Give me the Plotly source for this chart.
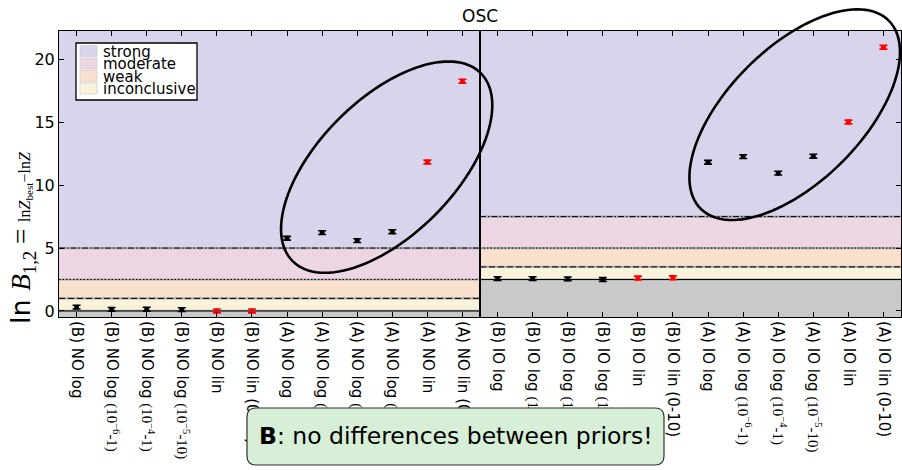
import numpy as np
import plotly.graph_objects as go

# ---------------- data ----------------
left_labels = [
    "(B) NO log",
    "(B) NO log <span style='font-family:Liberation Serif'>(10<sup>−6</sup>-1)</span>",
    "(B) NO log <span style='font-family:Liberation Serif'>(10<sup>−4</sup>-1)</span>",
    "(B) NO log <span style='font-family:Liberation Serif'>(10<sup>−5</sup>-10)</span>",
    "(B) NO lin",
    "(B) NO lin (0-10)",
    "(A) NO log",
    "(A) NO log <span style='font-family:Liberation Serif'>(10<sup>−6</sup>-1)</span>",
    "(A) NO log <span style='font-family:Liberation Serif'>(10<sup>−4</sup>-1)</span>",
    "(A) NO log <span style='font-family:Liberation Serif'>(10<sup>−5</sup>-10)</span>",
    "(A) NO lin",
    "(A) NO lin (0-10)",
]
right_labels = [
    "(B) IO log",
    "(B) IO log <span style='font-family:Liberation Serif'>(10<sup>−6</sup>-1)</span>",
    "(B) IO log <span style='font-family:Liberation Serif'>(10<sup>−4</sup>-1)</span>",
    "(B) IO log <span style='font-family:Liberation Serif'>(10<sup>−5</sup>-10)</span>",
    "(B) IO lin",
    "(B) IO lin (0-10)",
    "(A) IO log",
    "(A) IO log <span style='font-family:Liberation Serif'>(10<sup>−6</sup>-1)</span>",
    "(A) IO log <span style='font-family:Liberation Serif'>(10<sup>−4</sup>-1)</span>",
    "(A) IO log <span style='font-family:Liberation Serif'>(10<sup>−5</sup>-10)</span>",
    "(A) IO lin",
    "(A) IO lin (0-10)",
]
left_values = [0.30, 0.13, 0.14, 0.11, 0.00, 0.00, 5.78, 6.23, 5.59, 6.30, 11.84, 18.26]
left_errors = [0.15, 0.15, 0.15, 0.15, 0.15, 0.15, 0.15, 0.15, 0.15, 0.15, 0.15, 0.15]
left_colors = ["black", "black", "black", "black", "red", "red",
               "black", "black", "black", "black", "red", "red"]
right_values = [2.57, 2.57, 2.55, 2.50, 2.62, 2.64, 11.82, 12.27, 10.95, 12.30, 15.02, 20.96]
right_errors = [0.15, 0.15, 0.15, 0.15, 0.15, 0.15, 0.15, 0.15, 0.15, 0.15, 0.15, 0.15]
right_colors = ["black", "black", "black", "black", "red", "red",
                "black", "black", "black", "black", "red", "red"]

band_names = ["inconclusive", "weak", "moderate", "strong"]
band_colors = ["#f8f3da", "#f9e1cd", "#ecd6e4", "#d8d4ec"]
band_dashes = ["solid", "6px,3px", "1.5px,2px", "6px,2px,1.5px,2px"]
left_thresholds = [0.0, 1.0, 2.5, 5.0]
right_thresholds = [2.5, 3.5, 5.0, 7.5]
below_color = "#c9c9c9"
y_ticks = [0, 5, 10, 15, 20]
y_range = [-0.48, 22.25]

# ellipse highlights: centre (category index, value), semi-axes in px, angle
ellipses = [
    {"panel": 0, "cx": 8.84, "cy": 11.43, "a": 133, "b": 68, "angle": 45},
    {"panel": 1, "cx": 8.47, "cy": 15.60, "a": 133, "b": 67, "angle": 45},
]

# ---------------- geometry ----------------
FW, FH = 902, 470
L, R, T, B = 59, 1, 31, 153
PW = FW - L - R
PH = FH - T - B
n = len(left_labels)

def px_to_paper_x(px):
    return (px - L) / PW

def px_to_paper_y(py):
    return (FH - B - py) / PH

def data_to_px(panel, x, y):
    px = L + panel * PW / 2 + (x + 0.5) / n * (PW / 2)
    py = T + (y_range[1] - y) / (y_range[1] - y_range[0]) * PH
    return px, py

fig = go.Figure()

for panel, (vals, errs, cols) in enumerate([(left_values, left_errors, left_colors),
                                             (right_values, right_errors, right_colors)]):
    xa = "x" if panel == 0 else "x2"
    ya = "y" if panel == 0 else "y2"
    for c in ["black", "red"]:
        idx = [i for i in range(n) if cols[i] == c]
        fig.add_trace(go.Scatter(
            x=idx, y=[vals[i] for i in idx],
            error_y=dict(type="data", array=[errs[i] for i in idx], color=c,
                         thickness=1.6, width=4),
            mode="markers", marker=dict(color=c, size=5),
            xaxis=xa, yaxis=ya, showlegend=False, hoverinfo="skip"))

shapes = []
for panel, thr in enumerate([left_thresholds, right_thresholds]):
    xr = "x domain" if panel == 0 else "x2 domain"
    yr = "y" if panel == 0 else "y2"
    shapes.append(dict(type="rect", xref=xr, yref=yr, x0=0, x1=1,
                       y0=y_range[0], y1=thr[0], fillcolor=below_color,
                       line_width=0, layer="below"))
    for i in range(len(thr)):
        top = thr[i + 1] if i + 1 < len(thr) else y_range[1]
        shapes.append(dict(type="rect", xref=xr, yref=yr, x0=0, x1=1,
                           y0=thr[i], y1=top, fillcolor=band_colors[i],
                           line_width=0, layer="below"))
    for i in range(len(thr)):
        shapes.append(dict(type="line", xref=xr, yref=yr, x0=0, x1=1,
                           y0=thr[i], y1=thr[i], layer="below",
                           line=dict(color="#a8a8a8", width=2.2)))
        shapes.append(dict(type="line", xref=xr, yref=yr, x0=0, x1=1,
                           y0=thr[i], y1=thr[i], layer="below",
                           line=dict(color="black", width=1, dash=band_dashes[i])))

# ellipses
for e in ellipses:
    cpx, cpy = data_to_px(e["panel"], e["cx"], e["cy"])
    th = np.radians(e["angle"])
    t = np.linspace(0, 2 * np.pi, 121)
    u = e["a"] * np.cos(t)
    v = e["b"] * np.sin(t)
    dx = u * np.cos(th) - v * np.sin(th)
    dy = -(u * np.sin(th) + v * np.cos(th))
    pts = [(px_to_paper_x(cpx + a_), px_to_paper_y(cpy + b_)) for a_, b_ in zip(dx, dy)]
    path = "M " + " L ".join(f"{p[0]:.5f},{p[1]:.5f}" for p in pts) + " Z"
    shapes.append(dict(type="path", xref="paper", yref="paper", path=path,
                       line=dict(color="black", width=2.6), layer="above"))

# legend (drawn by hand to match the tight matplotlib legend)
lg_x0, lg_x1, lg_y0, lg_y1 = 76, 197, 43, 100
shapes.append(dict(type="rect", xref="paper", yref="paper",
                   x0=px_to_paper_x(lg_x0), x1=px_to_paper_x(lg_x1),
                   y0=px_to_paper_y(lg_y1), y1=px_to_paper_y(lg_y0),
                   fillcolor="white", line=dict(color="black", width=1.3), layer="above"))
legend_order = ["strong", "moderate", "weak", "inconclusive"]
annotations = []
for k, name in enumerate(legend_order):
    yc = 51 + k * 12.5
    col = band_colors[band_names.index(name)]
    shapes.append(dict(type="rect", xref="paper", yref="paper",
                       x0=px_to_paper_x(80), x1=px_to_paper_x(97),
                       y0=px_to_paper_y(yc + 5.5), y1=px_to_paper_y(yc - 5.5),
                       fillcolor=col, line=dict(color="#cfcfcf", width=0.8), layer="above"))
    annotations.append(dict(xref="paper", yref="paper", x=px_to_paper_x(101),
                            y=px_to_paper_y(yc + 0.5), xanchor="left", yanchor="middle",
                            text=name, showarrow=False,
                            font=dict(family="DejaVu Sans", size=15, color="black")))

# rounded comment box
bx0, bx1, by0, by1, rr = 247, 664, 408, 465, 9
def P(px, py):
    return f"{px_to_paper_x(px):.5f},{px_to_paper_y(py):.5f}"
box_path = (f"M {P(bx0 + rr, by0)} L {P(bx1 - rr, by0)} Q {P(bx1, by0)} {P(bx1, by0 + rr)} "
            f"L {P(bx1, by1 - rr)} Q {P(bx1, by1)} {P(bx1 - rr, by1)} "
            f"L {P(bx0 + rr, by1)} Q {P(bx0, by1)} {P(bx0, by1 - rr)} "
            f"L {P(bx0, by0 + rr)} Q {P(bx0, by0)} {P(bx0 + rr, by0)} Z")
shapes.append(dict(type="path", xref="paper", yref="paper", path=box_path,
                   fillcolor="#d6efd6", line=dict(color="#333333", width=1.2), layer="above"))
annotations.append(dict(xref="paper", yref="paper",
                        x=px_to_paper_x((bx0 + bx1) / 2), y=px_to_paper_y((by0 + by1) / 2 - 1),
                        xanchor="center", yanchor="middle", showarrow=False,
                        text="<b>B</b>: no differences between priors!",
                        font=dict(family="DejaVu Sans", size=23.5, color="black")))

# title
annotations.append(dict(xref="paper", yref="paper", x=0.5, y=1, xanchor="center",
                        yanchor="bottom", yshift=3, showarrow=False, text="OSC",
                        font=dict(family="DejaVu Sans", size=17, color="black")))

# y label
ylabel = ("ln <span style='font-family:Liberation Serif'><i>B</i><sub>1,2</sub> = "
          "<span style='font-size:16px'>ln<i>Z</i><sub>best</sub>−ln<i>Z</i></span></span>")
annotations.append(dict(xref="paper", yref="paper", x=px_to_paper_x(22),
                        y=px_to_paper_y(238), xanchor="center", yanchor="middle",
                        textangle=-90, showarrow=False, text=ylabel,
                        font=dict(family="DejaVu Sans", size=27, color="black")))

axis_common = dict(showline=True, linecolor="black", linewidth=1, ticks="inside",
                   ticklen=5, tickcolor="black", tickwidth=1, showgrid=False,
                   zeroline=False, automargin=False)
fig.update_layout(
    width=FW, height=FH,
    margin=dict(l=L, r=R, t=T, b=B),
    paper_bgcolor="white", plot_bgcolor="white",
    font=dict(family="DejaVu Sans", size=15, color="black"),
    xaxis=dict(domain=[0, 0.5], range=[-0.5, n - 0.5], tickmode="array",
               tickvals=list(range(n)), ticktext=left_labels, tickangle=90,
               mirror="ticks", anchor="y", tickfont=dict(size=15), **axis_common),
    xaxis2=dict(domain=[0.5, 1], range=[-0.5, n - 0.5], tickmode="array",
                tickvals=list(range(n)), ticktext=right_labels, tickangle=90,
                mirror="ticks", anchor="y2", tickfont=dict(size=15), **axis_common),
    yaxis=dict(range=y_range, tickvals=y_ticks, mirror=True, anchor="x",
               tickfont=dict(size=16), **axis_common),
    yaxis2=dict(range=y_range, tickvals=y_ticks, mirror=True, anchor="x2",
                side="right", showticklabels=False, **axis_common),
    shapes=shapes, annotations=annotations,
)

fig.write_html("out.html")
